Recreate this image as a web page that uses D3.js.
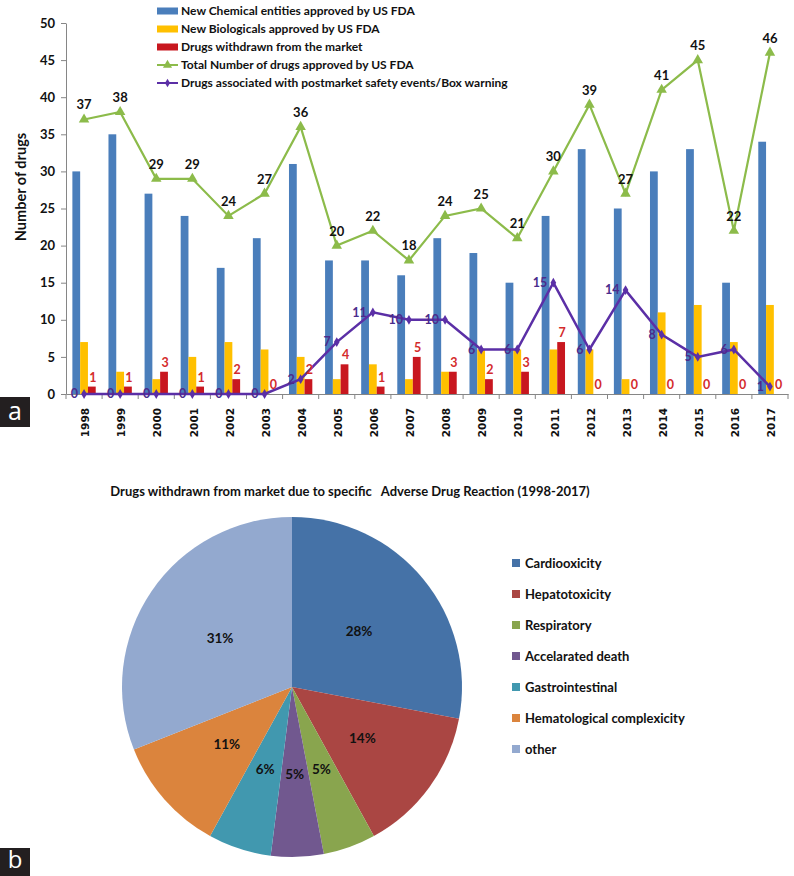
<!DOCTYPE html>
<html>
<head>
<meta charset="utf-8">
<script src="https://cdn.jsdelivr.net/npm/d3@7"></script>
<style>
  html, body { margin: 0; padding: 0; background: #fff; }
  svg { display: block; font-family: Lato, "Open Sans", sans-serif; }
</style>
</head>
<body>
<svg id="chart" width="794" height="876"></svg>
<script>
// ---------- DATA ----------
const years = ["1998","1999","2000","2001","2002","2003","2004","2005","2006","2007",
               "2008","2009","2010","2011","2012","2013","2014","2015","2016","2017"];
const newChemical   = [30,35,27,24,17,21,31,18,18,16,21,19,15,24,33,25,30,33,15,34];
const newBiological = [7,3,2,5,7,6,5,2,4,2,3,6,6,6,6,2,11,12,7,12];
const withdrawn     = [1,1,3,1,2,0,2,4,1,5,3,2,3,7,0,0,0,0,0,0];
const totalApproved = [37,38,29,29,24,27,36,20,22,18,24,25,21,30,39,27,41,45,22,46];
const safetyEvents  = [0,0,0,0,0,0,2,7,11,10,10,6,6,15,6,14,8,5,6,1];
const yTicks = [0,5,10,15,20,25,30,35,40,45,50];
const barLegend = [
  "New Chemical entities approved by US FDA",
  "New Biologicals approved by US FDA",
  "Drugs withdrawn from the market",
  "Total Number of drugs approved by US FDA",
  "Drugs associated with postmarket safety events/Box warning"
];
const pieTitle = "Drugs withdrawn from market due to specific   Adverse Drug Reaction (1998-2017)";
const adrCategories = ["Cardiooxicity","Hepatotoxicity","Respiratory","Accelarated death",
                       "Gastrointestinal","Hematological complexicity","other"];
const adrShares = [28,14,5,5,6,11,31];

// ---------- STYLE ----------
const cBlue = "#4a7ebb", cYellow = "#ffc000", cRed = "#c8171f",
      cGreen = "#8cbb4a", cPurple = "#5b2fa6", cRedLabel = "#d42b2b", cPurpleLabel = "#4a2c8c";
const pieColors = ["#4572a7","#aa4643","#89a54e","#71588f","#4198af","#db843d","#93a9cf"];

const svg = d3.select("#chart");
svg.append("rect").attr("width",794).attr("height",876).attr("fill","#fff");

// ---------- BAR/LINE CHART ----------
const x = d3.scaleBand().domain(years).range([66, 788]).padding(0);
const y = d3.scaleLinear().domain([0,50]).range([394, 23]);
const keys = ["nce","bio","wd"];
const x1 = d3.scaleBand().domain(keys).range([0, x.bandwidth()]).paddingInner(0).paddingOuter(0.82);
const series = {nce: newChemical, bio: newBiological, wd: withdrawn};
const sColor = {nce: cBlue, bio: cYellow, wd: cRed};
const cx = d => x(d) + x.bandwidth()/2;

const g = svg.append("g");

// bars
keys.forEach(k => {
  g.selectAll("rect.b-"+k).data(years).enter().append("rect")
    .attr("x", d => x(d) + x1(k))
    .attr("width", x1.bandwidth())
    .attr("y", (d,i) => y(series[k][i]))
    .attr("height", (d,i) => y(0) - y(series[k][i]))
    .attr("fill", sColor[k]);
});

// y axis
const yAxis = d3.axisLeft(y).tickValues(yTicks).tickSizeInner(5).tickSizeOuter(0).tickPadding(6);
const ya = g.append("g").attr("transform","translate(66,0)").call(yAxis);
ya.select(".domain").attr("stroke","#868686");
ya.selectAll(".tick line").attr("stroke","#868686");
ya.selectAll("text").attr("font-size",13).attr("font-weight","bold").attr("fill","#111")
  .attr("font-family","Lato, sans-serif");

// x axis
const xAxis = d3.axisBottom(x).tickSize(0).tickFormat("");
const xa = g.append("g").attr("transform","translate(0,394)").call(xAxis);
xa.select(".domain").attr("stroke","#868686");
xa.selectAll(".tick").remove();
g.selectAll("line.xt").data(years.concat(["_end"])).enter().append("line")
  .attr("x1", d => d === "_end" ? x.range()[1] : x(d))
  .attr("x2", d => d === "_end" ? x.range()[1] : x(d))
  .attr("y1", 394).attr("y2", 399)
  .attr("stroke","#868686");
g.selectAll("text.year").data(years).enter().append("text")
  .attr("transform", d => `translate(${cx(d)+1.5},408) rotate(-90)`)
  .attr("text-anchor","end").attr("dy","0.35em")
  .attr("font-family","DejaVu Sans, sans-serif").attr("font-weight","bold")
  .attr("font-size",10.5).attr("fill","#111")
  .text(d => d);

// y label
g.append("text").attr("transform","translate(26,187) rotate(-90)")
  .attr("text-anchor","middle").attr("font-size",14.5).attr("font-weight","bold").attr("fill","#111")
  .text("Number of drugs");

// green line
const lineGen = vals => d3.line().x((d,i) => cx(years[i])).y(d => y(d))(vals);
g.append("path").attr("d", lineGen(totalApproved)).attr("fill","none")
  .attr("stroke",cGreen).attr("stroke-width",2.2);
g.selectAll("path.tri").data(totalApproved).enter().append("path")
  .attr("d", d3.symbol().type(d3.symbolTriangle).size(48))
  .attr("transform",(d,i) => `translate(${cx(years[i])},${y(d)})`)
  .attr("fill",cGreen);

// purple line
g.append("path").attr("d", lineGen(safetyEvents)).attr("fill","none")
  .attr("stroke",cPurple).attr("stroke-width",2.5);
g.selectAll("path.dia").data(safetyEvents).enter().append("path")
  .attr("d", d3.symbol().type(d3.symbolDiamond).size(28))
  .attr("transform",(d,i) => `translate(${cx(years[i])},${y(d)})`)
  .attr("fill",cPurple);

// labels: green totals
g.selectAll("text.tot").data(totalApproved).enter().append("text")
  .attr("x",(d,i) => cx(years[i])).attr("y", d => y(d) - 10)
  .attr("text-anchor","middle").attr("font-size",13).attr("font-weight","bold").attr("fill","#111")
  .text(d => d);
// labels: withdrawn (red)
g.selectAll("text.wd").data(withdrawn).enter().append("text")
  .attr("x",(d,i) => x(years[i]) + x1("wd") + x1.bandwidth()/2 + 1).attr("y", d => y(d) - 5)
  .attr("text-anchor","middle").attr("font-size",12.5).attr("font-weight","bold").attr("fill",cRedLabel)
  .text(d => d);
// labels: purple
g.selectAll("text.se").data(safetyEvents).enter().append("text")
  .attr("x",(d,i) => cx(years[i]) - 6).attr("y", d => y(d)).attr("dy","0.35em")
  .attr("text-anchor","end").attr("font-size",12.5).attr("font-weight","bold").attr("fill",cPurpleLabel)
  .text(d => d);

// legend
const lg = svg.append("g");
barLegend.forEach((t,i) => {
  const yy = 11 + i*18;
  if (i < 3) {
    lg.append("rect").attr("x",157).attr("y",yy-3.5).attr("width",21).attr("height",7)
      .attr("fill",[cBlue,cYellow,cRed][i]);
  } else {
    const col = i === 3 ? cGreen : cPurple;
    lg.append("line").attr("x1",157).attr("x2",178).attr("y1",yy).attr("y2",yy)
      .attr("stroke",col).attr("stroke-width",2);
    lg.append("path").attr("d", d3.symbol().type(i === 3 ? d3.symbolTriangle : d3.symbolDiamond).size(i===3?36:22))
      .attr("transform",`translate(167.5,${yy})`).attr("fill",col);
  }
  lg.append("text").attr("x",181).attr("y",yy).attr("dy","0.35em")
    .attr("font-size",12).attr("font-weight","bold").attr("fill","#111").text(t);
});

// panel label a
svg.append("rect").attr("x",0).attr("y",397).attr("width",30).attr("height",30).attr("fill","#231f20");
svg.append("text").attr("x",15).attr("y",411).attr("dy","0.36em").attr("text-anchor","middle")
  .attr("font-family","Open Sans, sans-serif").attr("font-size",25).attr("fill","#fff").text("a");

// ---------- PIE ----------
svg.append("text").attr("x",350).attr("y",491).attr("dy","0.35em").attr("text-anchor","middle")
  .attr("font-size",13).attr("font-weight","bold").attr("fill","#111")
  .style("white-space","pre").attr("xml:space","preserve").text(pieTitle);

const pieG = svg.append("g").attr("transform","translate(292,687)");
const pie = d3.pie().sort(null).value(d => d)(adrShares);
const arc = d3.arc().innerRadius(0).outerRadius(170);
const labelArc = d3.arc().innerRadius(87).outerRadius(87);
pieG.selectAll("path").data(pie).enter().append("path")
  .attr("d", arc).attr("fill",(d,i) => pieColors[i]);
pieG.selectAll("text").data(pie).enter().append("text")
  .attr("transform", d => `translate(${labelArc.centroid(d)})`)
  .attr("text-anchor","middle").attr("dy","0.35em")
  .attr("font-size",13.5).attr("font-weight","bold").attr("fill","#111")
  .text(d => d.data + "%");

const pl = svg.append("g");
adrCategories.forEach((c,i) => {
  const yy = 563 + i*31;
  pl.append("rect").attr("x",512).attr("y",yy-4).attr("width",8).attr("height",8).attr("fill",pieColors[i]);
  pl.append("text").attr("x",525).attr("y",yy).attr("dy","0.35em")
    .attr("font-size",13).attr("font-weight","bold").attr("fill","#111").text(c);
});

// panel label b
svg.append("rect").attr("x",0).attr("y",848).attr("width",30).attr("height",28).attr("fill","#231f20");
svg.append("text").attr("x",15).attr("y",859).attr("dy","0.36em").attr("text-anchor","middle")
  .attr("font-family","Open Sans, sans-serif").attr("font-size",24).attr("fill","#fff").text("b");
</script>
</body>
</html>
